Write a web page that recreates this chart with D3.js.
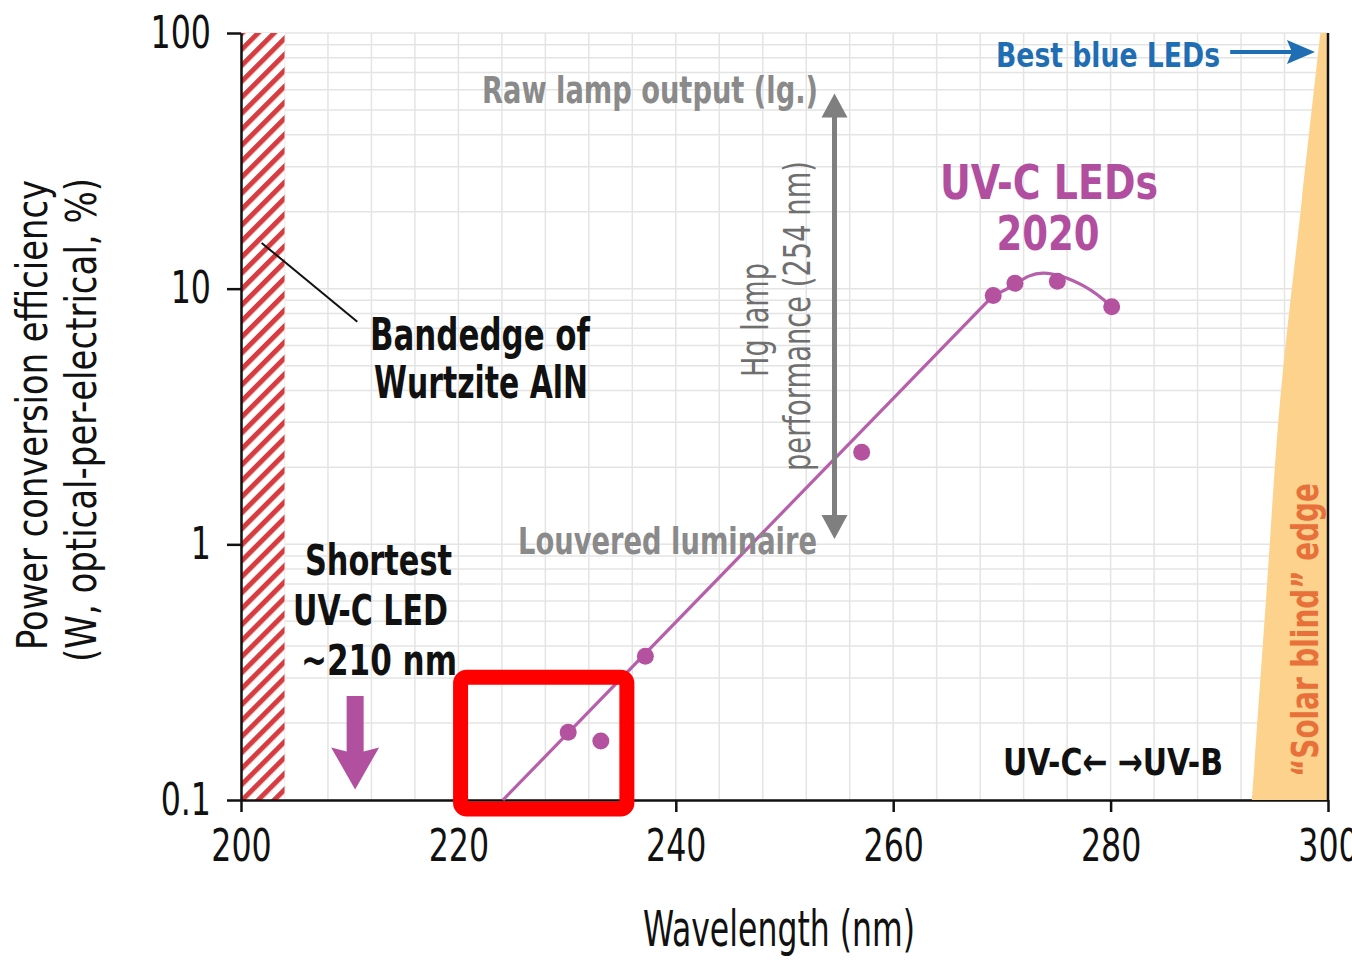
<!DOCTYPE html>
<html>
<head>
<meta charset="utf-8">
<script src="https://cdn.jsdelivr.net/npm/d3@7"></script>
<style>
  html, body { margin: 0; padding: 0; background: #fff; }
  svg { display: block; }
  text { font-family: 'Liberation Sans Narrow', 'DejaVu Sans Condensed', 'Liberation Sans', Arial, sans-serif; }
</style>
</head>
<body>
<script>
// ---- Axis ticks ----
const wavelengthTicks = [200, 220, 240, 260, 280, 300];
const efficiencyTicks = [0.1, 1, 10, 100];
const efficiencyTickLabels = ["0.1", "1", "10", "100"];

// ---- UV-C LED record power-conversion efficiencies (2020) ----
const ledWavelength = [230.1, 233.1, 237.2, 257.1, 269.2, 271.2, 275.1, 280.1];
const ledEfficiency = [0.184, 0.170, 0.365, 2.29, 9.4, 10.5, 10.7, 8.5];

// ---- Guide through the records: straight trend, then roll-off at the peak ----
const trendWavelength = [224.1, 269.2];
const trendEfficiency = [0.1, 9.4];
const peakWavelength = [269.2, 271.2, 273.8, 277.6, 280.1];
const peakEfficiency = [9.4, 10.4, 11.5, 10.2, 8.5];

// ---- Reference regions ----
const bandedgeRange = [200, 204];                       // Wurtzite AlN bandedge
const solarEdgeWavelength = [293.0, 294.3, 295.6, 297.6, 299.3];
const solarEdgeEfficiency = [0.1, 0.61, 3.68, 22.3, 100]; // solar-blind edge
const hgLampWavelength = 254.6;                          // Hg lamp line
const hgLampRange = [1.05, 58];                          // louvered luminaire .. raw lamp
const shortestLedWavelength = 210.5;
const shortestLedArrow = [0.255, 0.11];
const blueLedArrowWavelength = [291.0, 298.8];
const blueLedArrowEfficiency = 84.3;
const bandedgeLeader = [[201.9, 15.1], [210.7, 7.43]];
const highlightWavelength = [220.2, 235.5];
const highlightEfficiency = [0.0922, 0.302];

// ---- Colours ----
const MAGENTA = "#b24e9f";
const GREY = "#8a8a8a";
const BLUE = "#1f6eb3";
const ORANGE = "#e8703a";

const W = 1352, H = 962;
const svg = d3.select("body").append("svg").attr("width", W).attr("height", H);

const x = d3.scaleLinear().domain([200, 300]).range([241, 1328]);
const y = d3.scaleLog().domain([0.1, 100]).range([800, 33]);

function label(parent, str, px, py, o) {
  const t = parent.append("text")
    .attr("x", px).attr("y", py)
    .attr("font-size", o.size)
    .attr("font-weight", o.weight || 400)
    .attr("fill", o.fill || "#111")
    .attr("text-anchor", o.anchor || "start")
    .text(str);
  if (o.width) t.attr("textLength", o.width).attr("lengthAdjust", "spacingAndGlyphs");
  if (o.rotate) t.attr("transform", `rotate(${o.rotate},${px},${py})`);
  return t;
}

// Narrow the tick numerals to a condensed face
function condense(sel, k) {
  sel.each(function () {
    const w = this.getComputedTextLength();
    d3.select(this).attr("textLength", w * k).attr("lengthAdjust", "spacingAndGlyphs");
  });
}

// ---- Grid ----
const grid = svg.append("g").attr("stroke", "#e4e4e4").attr("stroke-width", 1.5);
grid.selectAll("line.v").data(d3.range(200, 301, 4)).join("line")
  .attr("class", "v")
  .attr("x1", d => x(d)).attr("x2", d => x(d))
  .attr("y1", y(0.1)).attr("y2", y(100));
grid.selectAll("line.h").data(y.ticks()).join("line")
  .attr("class", "h")
  .attr("x1", x(200)).attr("x2", x(300))
  .attr("y1", d => y(d)).attr("y2", d => y(d));

// ---- Bandedge hatch ----
const defs = svg.append("defs");
const pat = defs.append("pattern")
  .attr("id", "hatch").attr("patternUnits", "userSpaceOnUse")
  .attr("width", 11.3).attr("height", 11.3)
  .attr("patternTransform", "rotate(45)");
pat.append("rect").attr("width", 11.3).attr("height", 11.3).attr("fill", "#fff");
pat.append("rect").attr("width", 5).attr("height", 11.3).attr("fill", "#d63c40");

svg.append("rect")
  .attr("x", x(bandedgeRange[0])).attr("y", y(100))
  .attr("width", x(bandedgeRange[1]) - x(bandedgeRange[0]))
  .attr("height", y(0.1) - y(100))
  .attr("fill", "url(#hatch)");

// ---- Axes ----
const xAxis = svg.append("g")
  .attr("transform", `translate(0,${y(0.1)})`)
  .call(d3.axisBottom(x).tickValues(wavelengthTicks).tickFormat(d3.format("d"))
    .tickSize(12).tickSizeOuter(0).tickPadding(18));
xAxis.selectAll("text").attr("font-size", 44).attr("fill", "#111");
xAxis.select(".domain").attr("stroke", "#111").attr("stroke-width", 2.5);
xAxis.selectAll(".tick line").attr("stroke", "#111").attr("stroke-width", 2.5);
condense(xAxis.selectAll("text"), 0.8);

const yAxis = svg.append("g")
  .attr("transform", `translate(${x(200)},0)`)
  .call(d3.axisLeft(y).tickValues(efficiencyTicks)
    .tickFormat((d, i) => efficiencyTickLabels[i])
    .tickSize(14).tickSizeOuter(0).tickPadding(16));
yAxis.selectAll("text").attr("font-size", 44).attr("fill", "#111");
yAxis.select(".domain").attr("stroke", "#111").attr("stroke-width", 2.5);
yAxis.selectAll(".tick line").attr("stroke", "#111").attr("stroke-width", 2.5);
condense(yAxis.selectAll("text"), 0.8);

// ---- Solar-blind wedge ----
const edgePts = solarEdgeWavelength.map((w, i) => [x(w), y(solarEdgeEfficiency[i])]);
const edgePath = d3.line().curve(d3.curveCatmullRom)(edgePts);
svg.append("path")
  .attr("d", edgePath + `L${x(300)},${y(100)}L${x(300)},${y(0.1)}Z`)
  .attr("fill", "#fdd28c");
svg.append("line")
  .attr("x1", x(300)).attr("x2", x(300))
  .attr("y1", y(100)).attr("y2", y(0.1))
  .attr("stroke", "#111").attr("stroke-width", 2.5);

// ---- Trend guide and records ----
svg.append("path")
  .attr("d", d3.line()(trendWavelength.map((w, i) => [x(w), y(trendEfficiency[i])])))
  .attr("fill", "none").attr("stroke", "#b65fab").attr("stroke-width", 3.2);
svg.append("path")
  .attr("d", d3.line().curve(d3.curveNatural)(peakWavelength.map((w, i) => [x(w), y(peakEfficiency[i])])))
  .attr("fill", "none").attr("stroke", "#b65fab").attr("stroke-width", 3.2);

svg.append("g").selectAll("circle")
  .data(ledWavelength.map((w, i) => ({ w, e: ledEfficiency[i] })))
  .join("circle")
  .attr("cx", d => x(d.w)).attr("cy", d => y(d.e)).attr("r", 8.5)
  .attr("fill", "#b5529f");

// ---- Annotations ----
const ann = svg.append("g");

// Bandedge leader
ann.append("line")
  .attr("x1", x(bandedgeLeader[0][0])).attr("y1", y(bandedgeLeader[0][1]))
  .attr("x2", x(bandedgeLeader[1][0])).attr("y2", y(bandedgeLeader[1][1]))
  .attr("stroke", "#111").attr("stroke-width", 2);
label(ann, "Bandedge of", 370, 350, { size: 44, weight: 700, width: 220 });
label(ann, "Wurtzite AlN", 374, 398, { size: 44, weight: 700, width: 214 });

// Shortest LED
label(ann, "Shortest", 305, 575, { size: 42, weight: 700, width: 147 });
label(ann, "UV-C LED", 293, 625, { size: 42, weight: 700, width: 155 });
label(ann, "~210 nm", 301, 675, { size: 42, weight: 700, width: 156 });
{
  const cx = x(shortestLedWavelength), yt = y(shortestLedArrow[0]), yb = y(shortestLedArrow[1]);
  const sw = 8.5, hw = 24, hl = 42;
  ann.append("path")
    .attr("d", `M${cx - sw},${yt}L${cx + sw},${yt}L${cx + sw},${yb - hl + 4}L${cx + hw},${yb - hl}L${cx},${yb}L${cx - hw},${yb - hl}L${cx - sw},${yb - hl + 4}Z`)
    .attr("fill", "#b0509f");
}

// Hg lamp span
{
  const ax = x(hgLampWavelength), yTop = y(hgLampRange[1]), yBot = y(hgLampRange[0]);
  const hl = 24, hw = 13;
  ann.append("line").attr("x1", ax).attr("x2", ax).attr("y1", yTop + hl - 2).attr("y2", yBot - hl + 2)
    .attr("stroke", "#7f7f7f").attr("stroke-width", 5);
  ann.append("path").attr("d", `M${ax},${yTop}L${ax + hw},${yTop + hl}L${ax - hw},${yTop + hl}Z`).attr("fill", "#7f7f7f");
  ann.append("path").attr("d", `M${ax},${yBot}L${ax + hw},${yBot - hl}L${ax - hw},${yBot - hl}Z`).attr("fill", "#7f7f7f");
}
label(ann, "Raw lamp output (lg.)", 818, 103, { size: 38, weight: 700, fill: GREY, anchor: "end", width: 336 });
label(ann, "Louvered luminaire", 817, 554, { size: 38, weight: 700, fill: GREY, anchor: "end", width: 299 });
label(ann, "Hg lamp", 768, 320, { size: 38, fill: "#6f6f6f", anchor: "middle", width: 114, rotate: -90 });
label(ann, "performance (254 nm)", 810, 316, { size: 38, fill: "#6f6f6f", anchor: "middle", width: 310, rotate: -90 });

// UV-C LEDs 2020
label(ann, "UV-C LEDs", 1049, 199, { size: 48, weight: 700, fill: MAGENTA, anchor: "middle", width: 218 });
label(ann, "2020", 1048, 250, { size: 48, weight: 700, fill: MAGENTA, anchor: "middle", width: 103 });

// Best blue LEDs
label(ann, "Best blue LEDs", 996, 67, { size: 34, weight: 700, fill: BLUE, width: 224 });
{
  const ay = y(blueLedArrowEfficiency), x0 = x(blueLedArrowWavelength[0]), x1 = x(blueLedArrowWavelength[1]);
  ann.append("line").attr("x1", x0).attr("x2", x1 - 20).attr("y1", ay).attr("y2", ay)
    .attr("stroke", BLUE).attr("stroke-width", 4);
  ann.append("path").attr("d", `M${x1},${ay}L${x1 - 28},${ay - 12}L${x1 - 23},${ay}L${x1 - 28},${ay + 12}Z`).attr("fill", BLUE);
}

// UV-C / UV-B boundary and solar-blind edge
label(ann, "UV-C\u2190 \u2192UV-B", 1003, 775, { size: 38, weight: 700, width: 220 });
label(ann, "\u201CSolar blind\u201D edge", 1318, 630, { size: 38, weight: 700, fill: ORANGE, anchor: "middle", width: 294, rotate: -90 });

// Axis titles
label(svg, "Wavelength (nm)", 779, 946, { size: 50, anchor: "middle", width: 272 });
label(svg, "Power conversion efficiency", 47, 415, { size: 42, anchor: "middle", width: 470, rotate: -90 });
label(svg, "(W, optical-per-electrical, %)", 96, 420, { size: 42, anchor: "middle", width: 484, rotate: -90 });

// Highlight box around the shortest-wavelength records
svg.append("rect")
  .attr("x", x(highlightWavelength[0])).attr("y", y(highlightEfficiency[1]))
  .attr("width", x(highlightWavelength[1]) - x(highlightWavelength[0]))
  .attr("height", y(highlightEfficiency[0]) - y(highlightEfficiency[1]))
  .attr("rx", 6)
  .attr("fill", "none").attr("stroke", "#ff0000").attr("stroke-width", 15);
</script>
</body>
</html>
